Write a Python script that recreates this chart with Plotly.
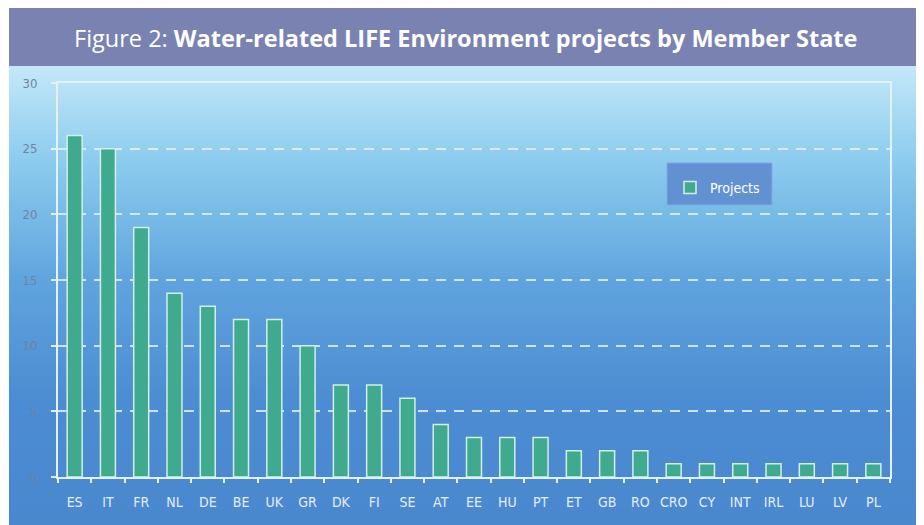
import plotly.graph_objects as go

countries = ["ES", "IT", "FR", "NL", "DE", "BE", "UK", "GR", "DK", "FI", "SE", "AT", "EE",
             "HU", "PT", "ET", "GB", "RO", "CRO", "CY", "INT", "IRL", "LU", "LV", "PL"]
projects = [26, 25, 19, 14, 13, 12, 12, 10, 7, 7, 6, 4, 3, 3, 3, 2, 2, 2, 1, 1, 1, 1, 1, 1, 1]
y_ticks = [0, 5, 10, 15, 20, 25, 30]
series_name = "Projects"
title_plain = "Figure 2: "
title_bold = "Water-related LIFE Environment projects by Member State"

OFF = 8  # page body margin
W, H = 924 - OFF, 525 - OFF
PL_, PR_, PT_, PB_ = 58, 890, 83, 477
L, R, T, B = PL_ - OFF, W - (PR_ - OFF), PT_ - OFF, H - (PB_ - OFF)
pw, ph = PR_ - PL_, PB_ - PT_


def px_x(p):
    return (p - PL_) / pw


def px_y(p):
    return (PB_ - p) / ph


def lerp(c1, c2, t):
    return tuple(round(a + (b - a) * t) for a, b in zip(c1, c2))


stops = [(66, (196, 232, 248)), (160, (140, 204, 238)), (280, (96, 164, 222)),
         (400, (76, 140, 210)), (525, (74, 136, 206))]

shapes = []
step = 4
y = 66
while y < 525:
    yc = y + step / 2
    col = stops[-1][1]
    for (y0, c0), (y1, c1) in zip(stops[:-1], stops[1:]):
        if y0 <= yc <= y1:
            col = lerp(c0, c1, (yc - y0) / (y1 - y0))
            break
    shapes.append(dict(type="rect", xref="paper", yref="paper", layer="below",
                       x0=px_x(9), x1=px_x(920), y0=px_y(min(y + step + 0.5, 526)), y1=px_y(y),
                       fillcolor="rgb(%d,%d,%d)" % col, line=dict(width=0)))
    y += step

shapes.append(dict(type="rect", xref="paper", yref="paper", layer="below",
                   x0=px_x(9), x1=px_x(920), y0=px_y(66), y1=px_y(6),
                   fillcolor="#7a82b2", line=dict(width=0)))
shapes.append(dict(type="rect", xref="paper", yref="paper", layer="above",
                   x0=px_x(667), x1=px_x(772), y0=px_y(205), y1=px_y(163),
                   fillcolor="#6291d2", line=dict(color="#80a8de", width=1)))

NARROW = "Liberation Sans Narrow, DejaVu Sans Condensed, Roboto, sans-serif"

fig = go.Figure()
fig.add_trace(go.Bar(
    x=countries, y=projects, name=series_name,
    marker=dict(color="#40aa8e", line=dict(color="#d3eee6", width=1.5)),
    showlegend=True,
))

fig.update_layout(
    width=W, height=H,
    margin=dict(l=L, r=R, t=T, b=B),
    paper_bgcolor="white",
    plot_bgcolor="rgba(0,0,0,0)",
    bargap=0.55,
    shapes=shapes,
    showlegend=True,
    legend=dict(x=px_x(670), y=px_y(172), xanchor="left", yanchor="top",
                bgcolor="rgba(0,0,0,0)", borderwidth=0,
                font=dict(family=NARROW, size=14, color="white"),
                itemwidth=30),
    annotations=[dict(
        xref="paper", yref="paper", x=px_x(465), y=px_y(38), xanchor="center", yanchor="middle",
        showarrow=False,
        text=title_plain + "<b>" + title_bold + "</b>",
        font=dict(family="Open Sans, Noto Sans, sans-serif", size=23.5, color="white"),
    )],
    xaxis=dict(
        showline=True, linecolor="#e2f1fa", linewidth=2, mirror=True,
        ticks="outside", tickson="boundaries", ticklen=4, tickcolor="#e2f1fa", tickwidth=2,
        ticklabelstandoff=11, tickangle=0,
        showgrid=False,
        tickfont=dict(family=NARROW, size=14, color="#e4eef8"),
    ),
    yaxis=dict(
        range=[0, 30], tickvals=y_ticks,
        showline=True, linecolor="#e2f1fa", linewidth=2, mirror=True,
        ticks="outside", ticklen=5, tickcolor="#e2f1fa", tickwidth=2,
        ticklabelstandoff=11,
        showgrid=True, gridcolor="rgba(225,242,252,0.85)", gridwidth=2, griddash="10px,8px",
        zeroline=False,
        tickfont=dict(family=NARROW, size=13, color="#6f84a0"),
    ),
)

fig.write_html("out.html")
